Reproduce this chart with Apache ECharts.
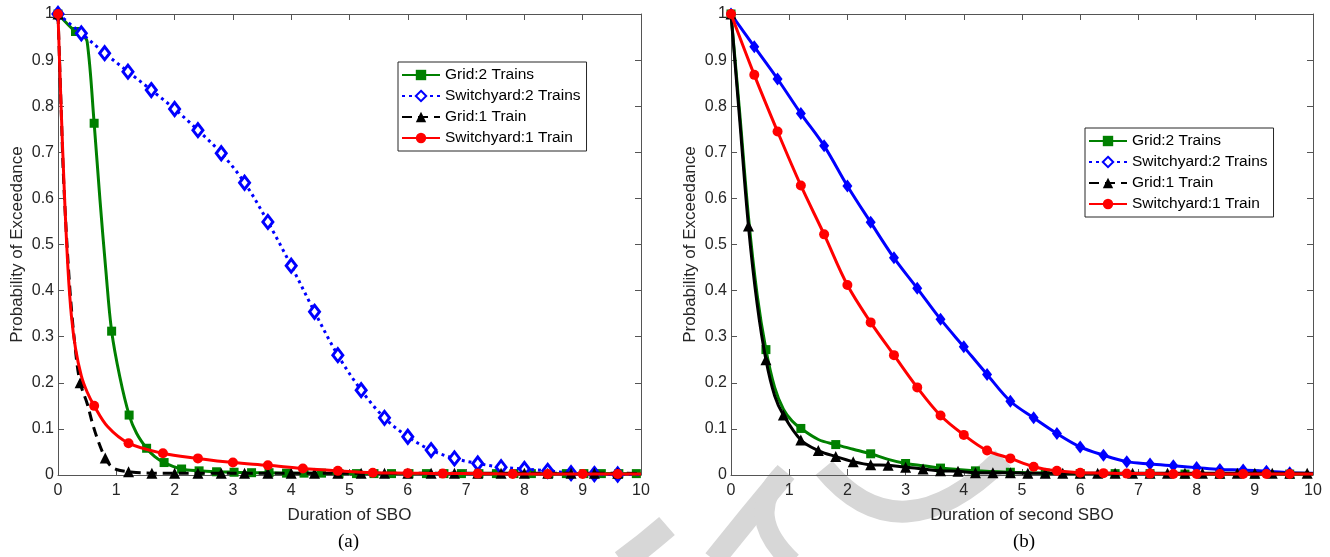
<!DOCTYPE html>
<html><head><meta charset="utf-8">
<script src="https://cdn.jsdelivr.net/npm/echarts@6/dist/echarts.min.js"></script>
<style>html,body{margin:0;padding:0;background:#fff}#c{width:1330px;height:557px}</style>
</head><body><div id="c"></div>
<script>
const seriesNames = ['Grid:2 Trains', 'Switchyard:2 Trains', 'Grid:1 Train', 'Switchyard:1 Train'];
const panelLabels = ['(a)', '(b)'];
const xNames = ['Duration of SBO', 'Duration of second SBO'];
const yName = 'Probability of Exceedance';

// ---- panel (a) ----
const aGreenMarks = [[0,1],[0.3,0.962],[0.62,0.763],[0.92,0.312],[1.22,0.13],[1.52,0.058],[1.82,0.027],[2.12,0.013],[2.42,0.009],[2.72,0.007],[3.02,0.006],[3.32,0.005],[3.62,0.005],[3.92,0.004],[4.22,0.004],[4.52,0.004],[4.82,0.003],[5.12,0.003],[5.42,0.003],[5.72,0.003],[6.02,0.003],[6.32,0.003],[6.62,0.003],[6.92,0.003],[7.22,0.003],[7.52,0.003],[7.82,0.003],[8.12,0.003],[8.42,0.003],[8.72,0.003],[9.02,0.003],[9.32,0.003],[9.62,0.003],[9.92,0.003]];
const aGreenCurve = [[0.15,0.98],[0.42,0.955],[0.5,0.94],[0.72,0.597],[0.82,0.445],[1.06,0.213],[1.35,0.09],[1.66,0.04],[10,0.003]];
const aBlueMarks = [[0,1],[0.4,0.958],[0.8,0.915],[1.2,0.875],[1.6,0.835],[2.0,0.794],[2.4,0.748],[2.8,0.698],[3.2,0.634],[3.6,0.549],[4.0,0.454],[4.4,0.354],[4.8,0.26],[5.2,0.184],[5.6,0.124],[6.0,0.083],[6.4,0.054],[6.8,0.036],[7.2,0.025],[7.6,0.017],[8.0,0.013],[8.4,0.009],[8.8,0.004],[9.2,0.002],[9.6,0.001]];
const aBlueCurve = [[10,0.001]];
const aBlackMarks = [[0,1],[0.38,0.2],[0.81,0.037],[1.21,0.007],[1.61,0.004],[2.0,0.004],[2.4,0.004],[2.8,0.004],[3.2,0.004],[3.6,0.004],[4.0,0.004],[4.4,0.004],[4.8,0.004],[5.2,0.004],[5.6,0.004],[6.0,0.004],[6.4,0.004],[6.8,0.004],[7.2,0.004],[7.6,0.004],[8.0,0.004],[8.4,0.004],[8.8,0.004],[9.2,0.004],[9.6,0.004]];
const aBlackCurve = [[0.05,0.81],[0.1,0.63],[0.2,0.41],[0.3,0.27],[0.5,0.155],[0.6,0.108],[0.7,0.07],[0.9,0.02],[1.0,0.012],[10,0.003]];
const aRedMarks = [[0,1],[0.62,0.15],[1.21,0.069],[1.8,0.047],[2.4,0.036],[3.0,0.027],[3.6,0.021],[4.2,0.014],[4.8,0.009],[5.4,0.005],[6.0,0.004],[6.6,0.003],[7.2,0.003],[7.8,0.002],[8.4,0.002],[9.0,0.002],[9.6,0.002]];
const aRedCurve = [[0.05,0.81],[0.11,0.61],[0.17,0.45],[0.23,0.345],[0.3,0.275],[0.4,0.215],[0.5,0.18],[0.85,0.105],[10,0.002]];

// ---- panel (b) ----
const bGreenMarks = [[0,1],[0.6,0.272],[1.2,0.101],[1.8,0.066],[2.4,0.046],[3.0,0.025],[3.6,0.015],[4.2,0.009],[4.8,0.006],[5.4,0.004],[6.0,0.003],[6.6,0.003],[7.2,0.003],[7.8,0.002],[8.4,0.002],[9.0,0.002],[9.6,0.002]];
const bGreenCurve = [[0.15,0.785],[0.3,0.56],[0.45,0.39],[0.75,0.19],[0.9,0.143],[1.05,0.117],[1.5,0.077],[2.1,0.056],[2.7,0.034],[3.3,0.02],[3.9,0.012],[10,0.002]];
const bBlueMarks = [[0,1],[0.4,0.929],[0.8,0.859],[1.2,0.784],[1.6,0.714],[2.0,0.627],[2.4,0.548],[2.8,0.471],[3.2,0.405],[3.6,0.338],[4.0,0.278],[4.4,0.218],[4.8,0.16],[5.2,0.124],[5.6,0.09],[6.0,0.061],[6.4,0.043],[6.8,0.029],[7.2,0.024],[7.6,0.02],[8.0,0.016],[8.4,0.012],[8.8,0.011],[9.2,0.008],[9.6,0.005]];
const bBlueCurve = [[10,0.004]];
const bBlackMarks = [[0,1],[0.3,0.54],[0.6,0.25],[0.9,0.13],[1.2,0.076],[1.5,0.053],[1.8,0.04],[2.1,0.029],[2.4,0.022],[2.7,0.021],[3.0,0.017],[3.3,0.013],[3.6,0.009],[3.9,0.008],[4.2,0.005],[4.5,0.005],[4.8,0.005],[5.1,0.004],[5.4,0.004],[5.7,0.004],[6.0,0.004],[6.3,0.004],[6.6,0.004],[6.9,0.004],[7.2,0.004],[7.5,0.004],[7.8,0.004],[8.1,0.004],[8.4,0.004],[8.7,0.004],[9.0,0.004],[9.3,0.004],[9.6,0.004],[9.9,0.004]];
const bBlackCurve = [[0.15,0.77],[0.45,0.37],[0.75,0.172],[10,0.003]];
const bRedMarks = [[0,1],[0.4,0.868],[0.8,0.745],[1.2,0.628],[1.6,0.522],[2.0,0.412],[2.4,0.331],[2.8,0.26],[3.2,0.19],[3.6,0.129],[4.0,0.087],[4.4,0.053],[4.8,0.036],[5.2,0.018],[5.6,0.009],[6.0,0.005],[6.4,0.004],[6.8,0.003],[7.2,0.003],[7.6,0.002],[8.0,0.002],[8.4,0.002],[8.8,0.002],[9.2,0.002],[9.6,0.002]];
const bRedCurve = [[10,0.002]];

const FONT = '"Liberation Sans", Arial, Helvetica, sans-serif';
const SERIF = '"Liberation Serif", "Times New Roman", serif';
const AX = '#555555';
const TXT = '#262626';
const WM = '#d7d7d7';

function merge(curve, marks) {
  const pts = curve.map(p => ({ value: p, symbol: 'none' })).concat(marks.map(p => ({ value: p })));
  pts.sort((a, b) => a.value[0] - b.value[0]);
  return pts;
}

const styles = [
  { color: '#008000', symbol: 'rect', size: 9, type: 'solid' },
  { color: '#0000ff', symbol: 'diamond', size: [10, 13], type: [3, 4] },
  { color: '#000000', symbol: 'triangle', size: 11, type: [10, 6] },
  { color: '#ff0000', symbol: 'circle', size: 10, type: 'solid' }
];

function mkSeries(idx, panel, curve, marks) {
  const s = styles[idx];
  let lineType = s.type, itemStyle = { color: s.color };
  if (panel === 0 && idx === 1) itemStyle = { color: '#ffffff', borderColor: s.color, borderWidth: 3 };
  if (panel === 1 && (idx === 1 || idx === 2)) lineType = 'solid';
  return {
    name: seriesNames[idx], type: 'line', xAxisIndex: panel * 2, yAxisIndex: panel * 2,
    data: merge(curve, marks), symbol: s.symbol, symbolSize: s.size, showAllSymbol: true,
    smooth: 0.35, animation: false,
    lineStyle: { color: s.color, width: 3, type: lineType },
    itemStyle: itemStyle, z: 2 + idx
  };
}

const grids = [
  { left: 58, top: 14, width: 583, height: 461 },
  { left: 731, top: 14, width: 582, height: 461 }
];

const xAxes = [], yAxes = [];
[0, 1].forEach(p => {
  const line = { show: true, onZero: false, lineStyle: { color: AX, width: 1 } };
  const tick = { inside: true, length: 6, lineStyle: { color: AX } };
  xAxes.push({ gridIndex: p, type: 'value', min: 0, max: 10, interval: 1, position: 'bottom',
    axisLine: line, axisTick: tick,
    axisLabel: { fontSize: 16, color: TXT, fontFamily: FONT, margin: 8 }, splitLine: { show: false },
    name: xNames[p], nameLocation: 'middle', nameGap: 32,
    nameTextStyle: { fontSize: 17, color: TXT, fontFamily: FONT } });
  xAxes.push({ gridIndex: p, type: 'value', min: 0, max: 10, interval: 1, position: 'top',
    axisLine: line, axisTick: tick, axisLabel: { show: false }, splitLine: { show: false } });
  yAxes.push({ gridIndex: p, type: 'value', min: 0, max: 1, interval: 0.1, position: 'left',
    axisLine: line, axisTick: tick,
    axisLabel: { fontSize: 16, color: TXT, fontFamily: FONT, margin: 4 }, splitLine: { show: false },
    name: yName, nameLocation: 'middle', nameGap: 32,
    nameTextStyle: { fontSize: 17, color: TXT, fontFamily: FONT } });
  yAxes.push({ gridIndex: p, type: 'value', min: 0, max: 1, interval: 0.1, position: 'right',
    axisLine: line, axisTick: tick, axisLabel: { show: false }, splitLine: { show: false } });
});

const series = [
  mkSeries(0, 0, aGreenCurve, aGreenMarks),
  mkSeries(1, 0, aBlueCurve, aBlueMarks),
  mkSeries(2, 0, aBlackCurve, aBlackMarks),
  mkSeries(3, 0, aRedCurve, aRedMarks),
  mkSeries(0, 1, bGreenCurve, bGreenMarks),
  mkSeries(1, 1, bBlueCurve, bBlueMarks),
  mkSeries(2, 1, bBlackCurve, bBlackMarks),
  mkSeries(3, 1, bRedCurve, bRedMarks)
];

function legend(left, top) {
  return { orient: 'vertical', left: left, top: top, data: seriesNames, itemWidth: 38, itemHeight: 13,
    itemGap: 5, padding: [5, 6, 5, 3], borderColor: '#262626', borderWidth: 1, backgroundColor: '#fff',
    borderRadius: 0, textStyle: { fontSize: 15.5, color: '#000', fontFamily: FONT }, selectedMode: false, z: 10 };
}

function wm(x1, y1, cx, cy, x2, y2, w) {
  return { type: 'bezierCurve', z: -10, silent: true,
    shape: { x1: x1, y1: y1, x2: x2, y2: y2, cpx1: cx, cpy1: cy },
    style: { stroke: WM, lineWidth: w, fill: null, lineCap: 'butt' } };
}

const chart = echarts.init(document.getElementById('c'), null, { renderer: 'canvas' });
chart.setOption({
  backgroundColor: '#ffffff', animation: false,
  grid: grids, xAxis: xAxes, yAxis: yAxes, series: series,
  legend: [legend(398, 62), legend(1085, 128)],
  graphic: [
    wm(622, 562, 645, 545, 667, 526, 24),
    wm(714, 560, 750, 515, 786, 472, 22),
    wm(783, 474, 742, 515, 792, 562, 20),
    wm(824, 468, 900, 560, 1003, 458, 22),
    { type: 'text', left: 338, top: 533, style: { text: panelLabels[0], fontSize: 19, fill: '#000', fontFamily: SERIF } },
    { type: 'text', left: 1013, top: 533, style: { text: panelLabels[1], fontSize: 19, fill: '#000', fontFamily: SERIF } }
  ]
});
</script></body></html>
